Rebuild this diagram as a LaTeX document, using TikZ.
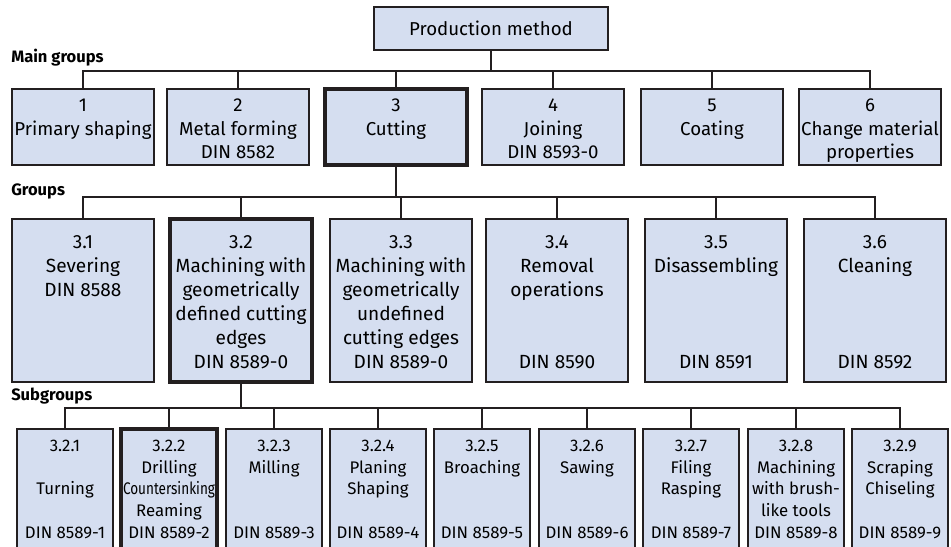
\documentclass[tikz,border=0pt]{standalone}
\usepackage{fontspec}
\setmainfont{Fira Sans}
\usepackage{graphicx}

\definecolor{boxblue}{RGB}{213,222,240}
\definecolor{linegray}{RGB}{35,31,32}

\newcommand\mainbody[1]{\parbox[t][57pt][t]{106.5pt}{\centering
	\fontsize{14}{17.6}\selectfont\vspace*{4.9pt}\strut#1\strut}}
\newcommand\grpbody[2]{\parbox[t][122.25pt][s]{106.5pt}{\centering
	\fontsize{14.3}{18}\selectfont\vspace*{9.15pt}\strut#1\strut\par\vfill
	\strut#2\strut\par\vspace*{5.1pt}}}
\newcommand\subbody[2]{\parbox[t][93pt][s]{72pt}{\centering
	\fontsize{12.6}{16.1}\selectfont\vspace*{5.96pt}\strut#1\strut\par\vfill
	\strut#2\strut\par\vspace*{6.4pt}}}

\tikzset{
	box/.style={draw=linegray,fill=boxblue,line width=1.3pt,inner sep=0pt,
		outer sep=0pt,anchor=north west},
	selbox/.style={box,line width=3pt},
	conn/.style={draw=linegray,line width=1.3pt},
	level/.style={anchor=base west,inner sep=0pt,
		font=\fontsize{12.4}{14}\selectfont\bfseries}
}

\begin{document}
\begin{tikzpicture}[x=0.75pt,y=-0.75pt]

\useasboundingbox (0,0) rectangle (951,547);

\node[box,minimum width=175.5pt,minimum height=32.25pt,
	font=\fontsize{14}{17.6}\selectfont] (pm) at (374,7) {Production method};

% level labels
\node[level] (lmain) at (11,62) {Main groups};
\node[level] (lgrp) at (11,195) {Groups};
\node[level] (lsub) at (11,400) {Subgroups};

\coordinate (mainbus) at (0,71);
\coordinate (grpbus) at (0,197);
\coordinate (subbus) at (0,408);

% main groups
\foreach \x/\s/\t [count=\i] in {
	12/box/{1\\Primary shaping},
	167/box/{2\\Metal forming\\DIN 8582},
	325/selbox/{3\\Cutting},
	482/box/{4\\Joining\\DIN 8593-0},
	641/box/{5\\Coating},
	799/box/{6\\Change material\\properties}}{
	\node[\s] (m\i) at (\x,89) {\mainbody{\t}};
}

% groups
\foreach \x/\s/\t/\b [count=\i] in {
	12/box/{3.1\\Severing\\DIN 8588}/{},
	170/selbox/{3.2\\Machining with\\geometrically\\defined cutting\\edges\\DIN 8589-0}/{},
	330/box/{3.3\\Machining with\\geometrically\\undefined\\cutting edges}/{DIN 8589-0},
	486/box/{3.4\\Removal\\operations}/{DIN 8590},
	645/box/{3.5\\Disassembling}/{DIN 8591},
	804/box/{3.6\\Cleaning}/{DIN 8592}}{
	\node[\s] (g\i) at (\x,219) {\grpbody{\t}{\b}};
}

% subgroups
\foreach \x/\s/\t/\b [count=\i] in {
	17/box/{3.2.1\\\strut\\Turning}/{DIN 8589-1},
	121/selbox/{3.2.2\\Drilling\\\resizebox{69pt}{\height}{Countersinking}\\Reaming}/{DIN 8589-2},
	226/box/{3.2.3\\Milling}/{DIN 8589-3},
	330/box/{3.2.4\\Planing\\Shaping}/{DIN 8589-4},
	434/box/{3.2.5\\Broaching}/{DIN 8589-5},
	539/box/{3.2.6\\Sawing}/{DIN 8589-6},
	643/box/{3.2.7\\Filing\\Rasping}/{DIN 8589-7},
	748/box/{3.2.8\\Machining\\with brush-\\like tools}/{DIN 8589-8},
	852/box/{3.2.9\\Scraping\\Chiseling}/{DIN 8589-9}}{
	\node[\s] (s\i) at (\x,429) {\subbody{\t}{\b}};
}

% connectors
\draw[conn] (pm.south) -- (pm.south |- mainbus);
\draw[conn] (m1.north) -- (m1.north |- mainbus) -- (m6.north |- mainbus) -- (m6.north);
\foreach \i in {2,...,5}{
	\draw[conn] (m\i.north |- mainbus) -- (m\i.north);
}
\draw[conn] (m3.south) -- (m3.south |- grpbus);
\draw[conn] (g1.north) -- (g1.north |- grpbus) -- (g6.north |- grpbus) -- (g6.north);
\foreach \i in {2,...,5}{
	\draw[conn] (g\i.north |- grpbus) -- (g\i.north);
}
\draw[conn] (g2.south) -- (g2.south |- subbus);
\draw[conn] (s1.north) -- (s1.north |- subbus) -- (s9.north |- subbus) -- (s9.north);
\foreach \i in {2,...,8}{
	\draw[conn] (s\i.north |- subbus) -- (s\i.north);
}

\end{tikzpicture}
\end{document}
